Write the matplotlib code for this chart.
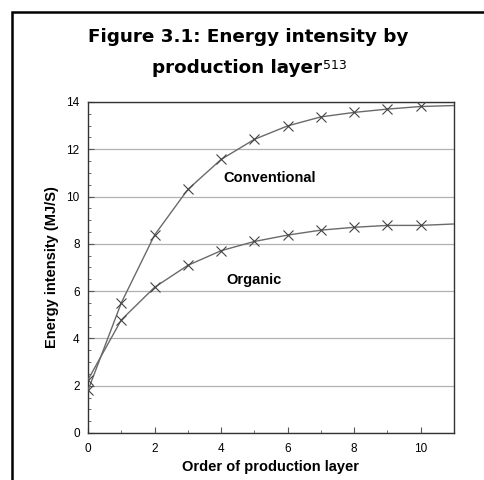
import matplotlib
matplotlib.use("Agg")
import matplotlib.pyplot as plt
from matplotlib.patches import Rectangle
from matplotlib.ticker import MultipleLocator

layers = [0, 1, 2, 3, 4, 5, 6, 7, 8, 9, 10]
conventional = [1.8, 5.5, 8.37, 10.3, 11.57, 12.42, 12.99, 13.37, 13.56, 13.70, 13.81]
organic = [2.25, 4.78, 6.16, 7.09, 7.71, 8.10, 8.37, 8.58, 8.70, 8.78, 8.78]
curve_end_x = 11
conventional_end = 13.85
organic_end = 8.84

title_line1 = "Figure 3.1: Energy intensity by"
title_line2 = "production layer"
title_note = "513"
xlabel = "Order of production layer"
ylabel = "Energy intensity (MJ/S)"

fig = plt.figure(figsize=(4.84, 4.8), dpi=100)
ax = fig.add_axes([0.1818, 0.098, 0.938 - 0.1818, 0.7875 - 0.098])

line_col = "#6a6a6a"
for vals, end in ((conventional, conventional_end), (organic, organic_end)):
    ax.plot(layers + [curve_end_x], vals + [end], color=line_col, lw=1.0,
            marker="x", markersize=7.5, markeredgewidth=0.8, markevery=list(range(len(layers))),
            mec="#444444", zorder=3)

ax.set_xlim(0, 11)
ax.set_ylim(0, 14)
ax.xaxis.set_major_locator(MultipleLocator(2))
ax.xaxis.set_minor_locator(MultipleLocator(1))
ax.yaxis.set_major_locator(MultipleLocator(2))
ax.yaxis.set_minor_locator(MultipleLocator(0.5))
ax.tick_params(which="both", direction="in", top=False, right=False, color="#555555")
ax.tick_params(which="major", length=4, labelsize=8.5)
ax.tick_params(axis="x", which="major", pad=7)
ax.tick_params(axis="y", which="major", pad=6)
ax.tick_params(which="minor", length=2.5)
for lab in ax.get_xticklabels() + ax.get_yticklabels():
    lab.set_fontfamily("Liberation Sans")
ax.grid(axis="y", which="major", color="#b0b0b0", lw=0.9)
for s in ax.spines.values():
    s.set_color("#333333")
    s.set_linewidth(1.0)

ax.set_xlabel(xlabel, fontsize=10.5, fontweight="bold", family="Liberation Sans", labelpad=4)
ax.set_ylabel(ylabel, fontsize=10.5, fontweight="bold", family="Liberation Sans", labelpad=5)

ax.text(5.45, 10.78, "Conventional", fontsize=10.5, fontweight="bold",
        family="Liberation Sans", ha="center", va="center")
ax.text(4.98, 6.47, "Organic", fontsize=10.5, fontweight="bold",
        family="Liberation Sans", ha="center", va="center")

fig.text(0.513, 1 - 37 / 480, title_line1, ha="center", va="center", fontsize=13.2,
         fontweight="bold", family="DejaVu Sans")
t2 = fig.text(0.49, 1 - 68 / 480, title_line2, ha="center", va="center", fontsize=13.2,
              fontweight="bold", family="DejaVu Sans")
fig.canvas.draw()
bb = t2.get_window_extent()
fig.text((bb.x1 + 1) / 484, (bb.y0 + 0.62 * bb.height) / 480, title_note, ha="left", va="center",
         fontsize=9, family="DejaVu Sans")

fig.patches.append(Rectangle((12 / 484, -0.05), 1.2, 1 - 12 / 480 + 0.05,
                             transform=fig.transFigure, fill=False,
                             edgecolor="black", lw=1.8))

fig.savefig("out.png", dpi=100)
